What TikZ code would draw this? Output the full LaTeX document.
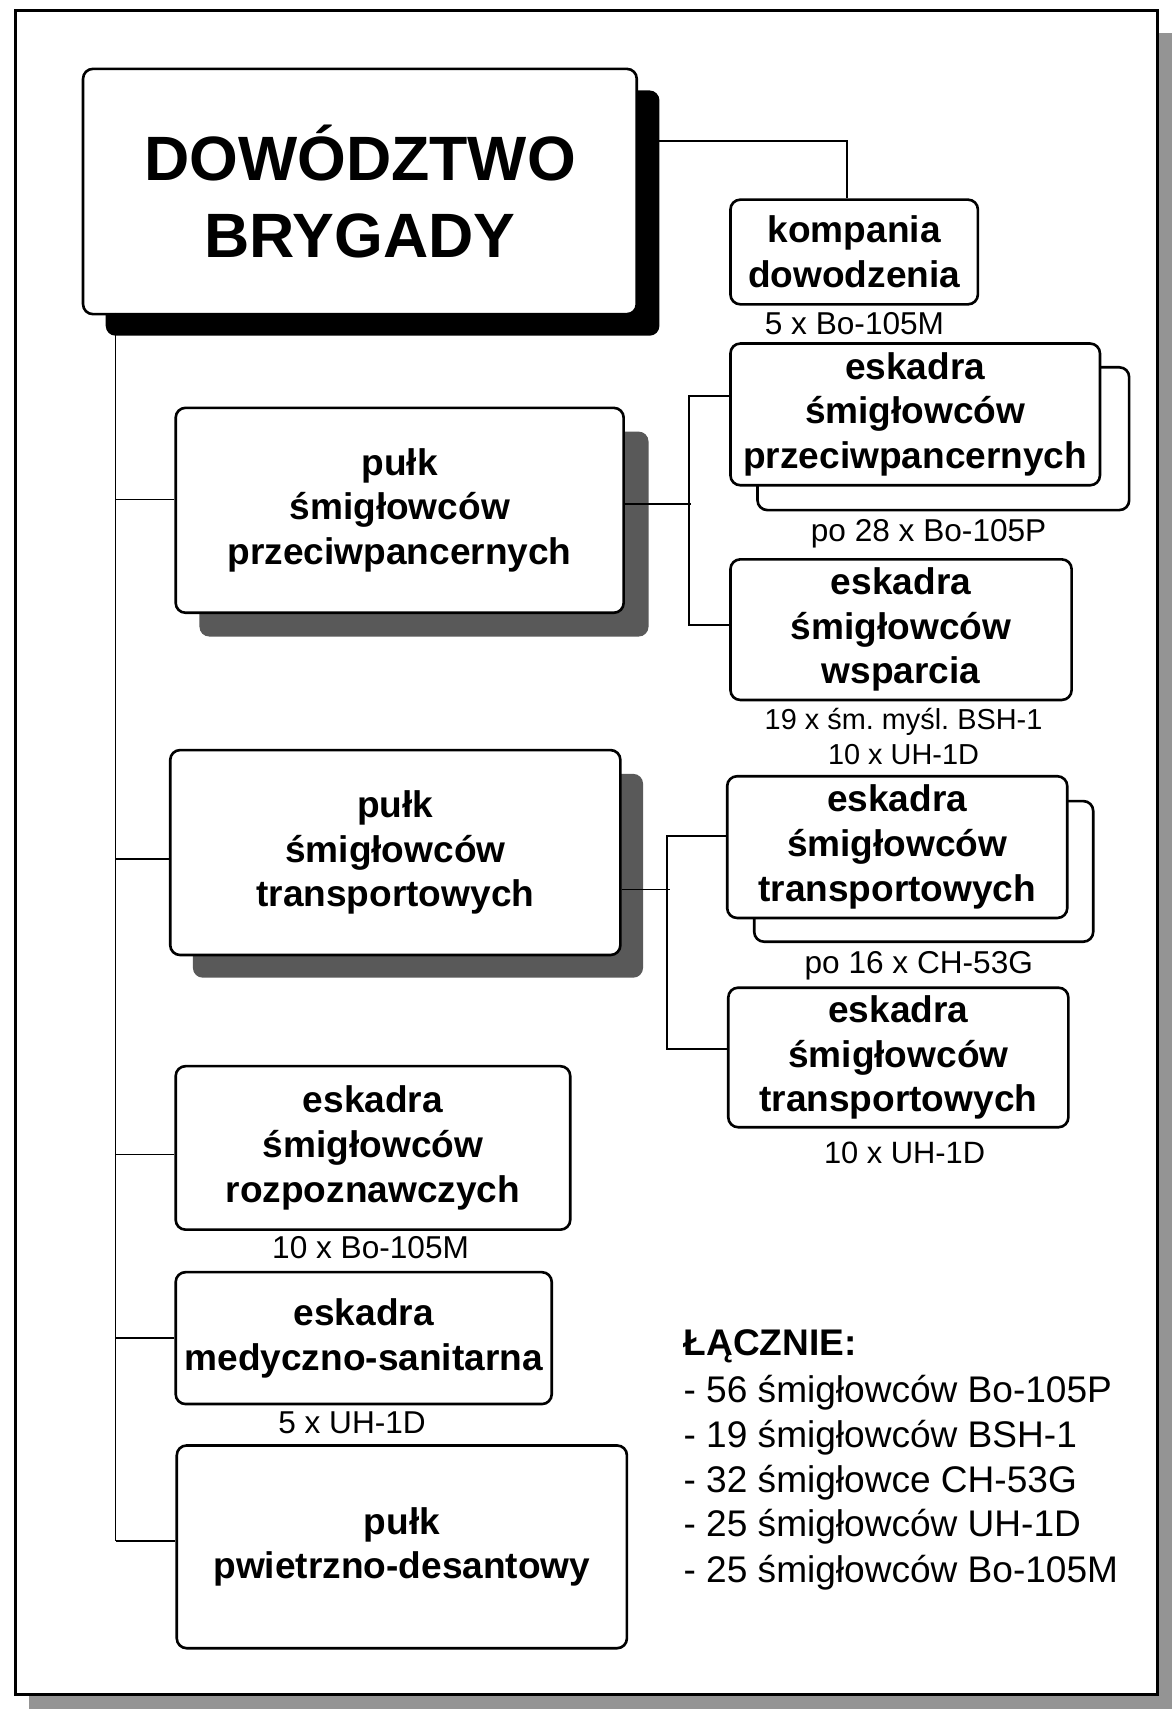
\documentclass[tikz,border=0pt]{standalone}
\usepackage{fontspec}
\setmainfont{Liberation Sans}
\frenchspacing
\begin{document}
\begin{tikzpicture}[x=1pt,y=-1pt,
  box/.style={draw, line width=2.4pt, rounded corners=9pt, fill=white, align=center,
    inner sep=0pt, anchor=north west, font=\bfseries\fontsize{34}{41}\selectfont},
  backbox/.style={draw, line width=2.4pt, rounded corners=9pt, fill=white},
  lbl/.style={inner sep=0pt, align=center, font=\fontsize{29}{30}\selectfont},
  tot/.style={inner sep=0pt, anchor=base west, font=\fontsize{34}{41}\selectfont},
  link/.style={line width=1.5pt}]
\useasboundingbox (0,0) rectangle (1075,1568);
% outer frame with shadow
\fill[black!42] (27,30) rectangle (1075,1568);
\draw[line width=2.8pt, fill=white] (14,10) rectangle (1062,1555);
% shadows
\fill[black, rounded corners=9pt] (97,83) rectangle (605,308);
\fill[black!65, rounded corners=9pt] (183,396) rectangle (595,584);
\fill[black!65, rounded corners=9pt] (177,710) rectangle (590,897);
% back boxes of stacked units
\draw[backbox] (695,337) rectangle (1036,468);
\draw[backbox] (692,735) rectangle (1003,864);
% boxes
\node[box, minimum width=508pt, minimum height=225pt, font=\bfseries\fontsize{57.5}{70}\selectfont]
  (dow) at (75,62) {DOWÓDZTWO\\BRYGADY};
\node[box, minimum width=227pt, minimum height=96pt] (komp) at (669,182) {kompania\\dowodzenia};
\node[box, minimum width=339pt, minimum height=130pt] (e1) at (669,314) {eskadra\\śmigłowców\\przeciwpancernych};
\node[box, minimum width=313pt, minimum height=129pt] (e2) at (669,512) {eskadra\\śmigłowców\\wsparcia};
\node[box, minimum width=411pt, minimum height=188pt] (p1) at (160,373) {pułk\\śmigłowców\\przeciwpancernych};
\node[box, minimum width=413pt, minimum height=188pt] (p2) at (155,687) {pułk\\śmigłowców\\transportowych};
\node[box, minimum width=312pt, minimum height=130pt] (e3) at (666,711) {eskadra\\śmigłowców\\transportowych};
\node[box, minimum width=312pt, minimum height=128pt] (e4) at (667,905) {eskadra\\śmigłowców\\transportowych};
\node[box, minimum width=362pt, minimum height=150pt] (e5) at (160,977) {eskadra\\śmigłowców\\rozpoznawczych};
\node[box, minimum width=345pt, minimum height=121pt] (e6) at (160,1166) {eskadra\\medyczno-sanitarna};
\node[box, minimum width=413pt, minimum height=186pt] (p3) at (161,1325) {pułk\\pwietrzno-desantowy};
% sub-labels
\node[lbl] (l1) at (784,297) {5 x Bo-105M};
\node[lbl] (l2) at (852,490) {po 28 x Bo-105P};
\node[lbl, font=\fontsize{26.5}{32}\selectfont] (l3) at (829,676) {19 x śm.\ myśl.\ BSH-1\\10 x UH-1D};
\node[lbl] (l4) at (843,886) {po 16 x CH-53G};
\node[lbl, font=\fontsize{28.3}{30}\selectfont] (l5) at (830,1058) {10 x UH-1D};
\node[lbl] (l6) at (340,1145) {10 x Bo-105M};
\node[lbl] (l7) at (323,1305) {5 x UH-1D};
% totals
\node[tot, font=\bfseries\fontsize{34}{41}\selectfont] (t0) at (627,1244) {ŁĄCZNIE:};
\node[tot] (t1) at (627,1287) {- 56 śmigłowców Bo-105P};
\node[tot] (t2) at (627,1328) {- 19 śmigłowców BSH-1};
\node[tot] (t3) at (627,1369) {- 32 śmigłowce CH-53G};
\node[tot] (t4) at (627,1410) {- 25 śmigłowców UH-1D};
\node[tot] (t5) at (627,1452) {- 25 śmigłowców Bo-105M};
% connectors
\coordinate (trtop) at (106,287);
\coordinate (trbot) at (106,1414);
\draw[link] (trtop) -- (trbot);
\draw[link] ([yshift=10pt]p1.west) -- ++(-54,0);
\draw[link] ([yshift=-6pt]p2.west) -- ++(-49,0);
\draw[link] ([yshift=-6pt]e5.west) -- ++(-54,0);
\draw[link] (e6.west) -- ++(-54,0);
\draw[link] (trbot) -- (trbot -| p3.west);
\draw[link] ([yshift=46.5pt]dow.east) -| ([xshift=-6.5pt]komp.north);
\draw[link] ([yshift=6pt]p1.east) -- ++(61,0);
\draw[link] ([yshift=17pt]e1.west) -- ++(-37,0) |- ([yshift=4.5pt]e2.west);
\draw[link] ([yshift=-34pt]p2.east) -- ++(44,0);
\draw[link] ([yshift=10pt]e3.west) -- ++(-54,0) |- ([yshift=8pt]e4.west);
\end{tikzpicture}
\end{document}
